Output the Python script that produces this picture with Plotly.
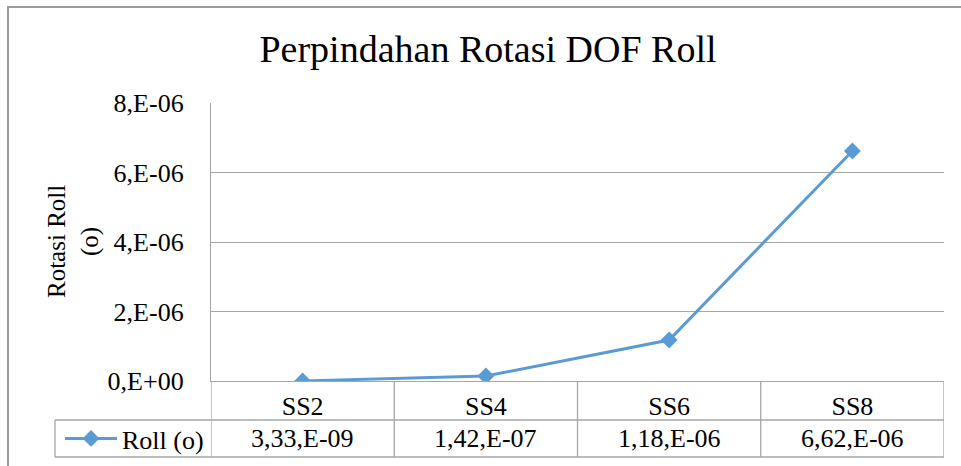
import plotly.graph_objects as go

categories = ["SS2", "SS4", "SS6", "SS8"]
roll_values = [3.33e-09, 1.42e-07, 1.18e-06, 6.62e-06]
value_labels = ["3,33,E-09", "1,42,E-07", "1,18,E-06", "6,62,E-06"]
y_tickvals = [0, 2e-06, 4e-06, 6e-06, 8e-06]
y_ticktext = ["0,E+00", "2,E-06", "4,E-06", "6,E-06", "8,E-06"]
series_name = "Roll (o)"
title_text = "Perpindahan Rotasi DOF Roll"
y_title = "Rotasi Roll<br>(o)"

W, H = 961, 466
FONT = "Liberation Serif, Times New Roman, serif"
BLUE = "#5B9BD5"
GRID = "#A6A6A6"

def px(x):
    return x / W

def py(y):
    return (H - y) / H

plot_l, plot_r, plot_t, plot_b = 211, 944, 103, 381
row1_b, row2_b = 420, 457
leg_l = 55

fig = go.Figure()
fig.add_trace(go.Scatter(
    x=categories, y=roll_values, mode="lines+markers", name=series_name,
    line=dict(color=BLUE, width=3),
    marker=dict(symbol="diamond", size=13, color=BLUE),
))

shapes = []
# outer chart border
shapes.append(dict(type="rect", xref="paper", yref="paper",
                   x0=px(8), x1=px(975), y0=py(480), y1=py(7),
                   line=dict(color="#9A9A9A", width=2), fillcolor="rgba(0,0,0,0)"))
# table vertical lines at category boundaries
for b in [-0.5, 0.5, 1.5, 2.5, 3.5]:
    shapes.append(dict(type="line", xref="x", yref="paper", x0=b, x1=b,
                       y0=py(plot_b), y1=py(row2_b), line=dict(color=GRID, width=1.3)))
# legend cell left line
shapes.append(dict(type="line", xref="paper", yref="paper", x0=px(leg_l), x1=px(leg_l),
                   y0=py(row1_b), y1=py(row2_b), line=dict(color=GRID, width=1.3)))
# table horizontal lines
for yy in [row1_b, row2_b]:
    shapes.append(dict(type="line", xref="paper", yref="paper", x0=px(leg_l), x1=px(plot_r),
                       y0=py(yy), y1=py(yy), line=dict(color=GRID, width=1.3)))

annotations = []
for c, lab in zip(categories, value_labels):
    annotations.append(dict(x=c, xref="x", y=py((row1_b + row2_b) / 2), yref="paper",
                            text=lab, showarrow=False, xanchor="center", yanchor="middle",
                            font=dict(family=FONT, size=26, color="black")))
annotations.append(dict(x=px(73), xref="paper", y=py((plot_t + plot_b) / 2), yref="paper",
                        text=y_title, showarrow=False, textangle=-90,
                        xanchor="center", yanchor="middle",
                        font=dict(family=FONT, size=25, color="black")))

fig.update_layout(
    width=W, height=H, autosize=False,
    margin=dict(l=0, r=0, t=0, b=0, pad=0, autoexpand=False),
    paper_bgcolor="white", plot_bgcolor="white",
    title=dict(text=title_text, x=px(488), xanchor="center", y=py(49), yanchor="middle",
               font=dict(family=FONT, size=38, color="black")),
    font=dict(family=FONT, color="black"),
    xaxis=dict(domain=[px(plot_l), px(plot_r)], type="category", range=[-0.5, 3.5],
               automargin=False,
               showgrid=False, showline=True, linecolor=GRID, linewidth=1.3,
               ticks="", tickfont=dict(family=FONT, size=26, color="black"),
               ticklabelstandoff=2, zeroline=False),
    yaxis=dict(domain=[py(plot_b), py(plot_t)], range=[0, 8e-06],
               automargin=False,
               tickvals=y_tickvals, ticktext=y_ticktext,
               showgrid=True, gridcolor=GRID, gridwidth=1.3,
               showline=True, linecolor=GRID, linewidth=1.3, zeroline=False,
               ticks="", ticklabelstandoff=21,
               tickfont=dict(family=FONT, size=26, color="black")),
    showlegend=True,
    legend=dict(x=px(60), y=py((row1_b + row2_b) / 2), xanchor="left", yanchor="middle",
                bgcolor="rgba(0,0,0,0)", font=dict(family=FONT, size=26, color="black"),
                itemwidth=52, tracegroupgap=0),
    shapes=shapes, annotations=annotations,
)

fig.write_html("out.html",
               config={"displayModeBar": False},
               post_script="document.body.style.margin='0';document.body.style.overflow='hidden';")
